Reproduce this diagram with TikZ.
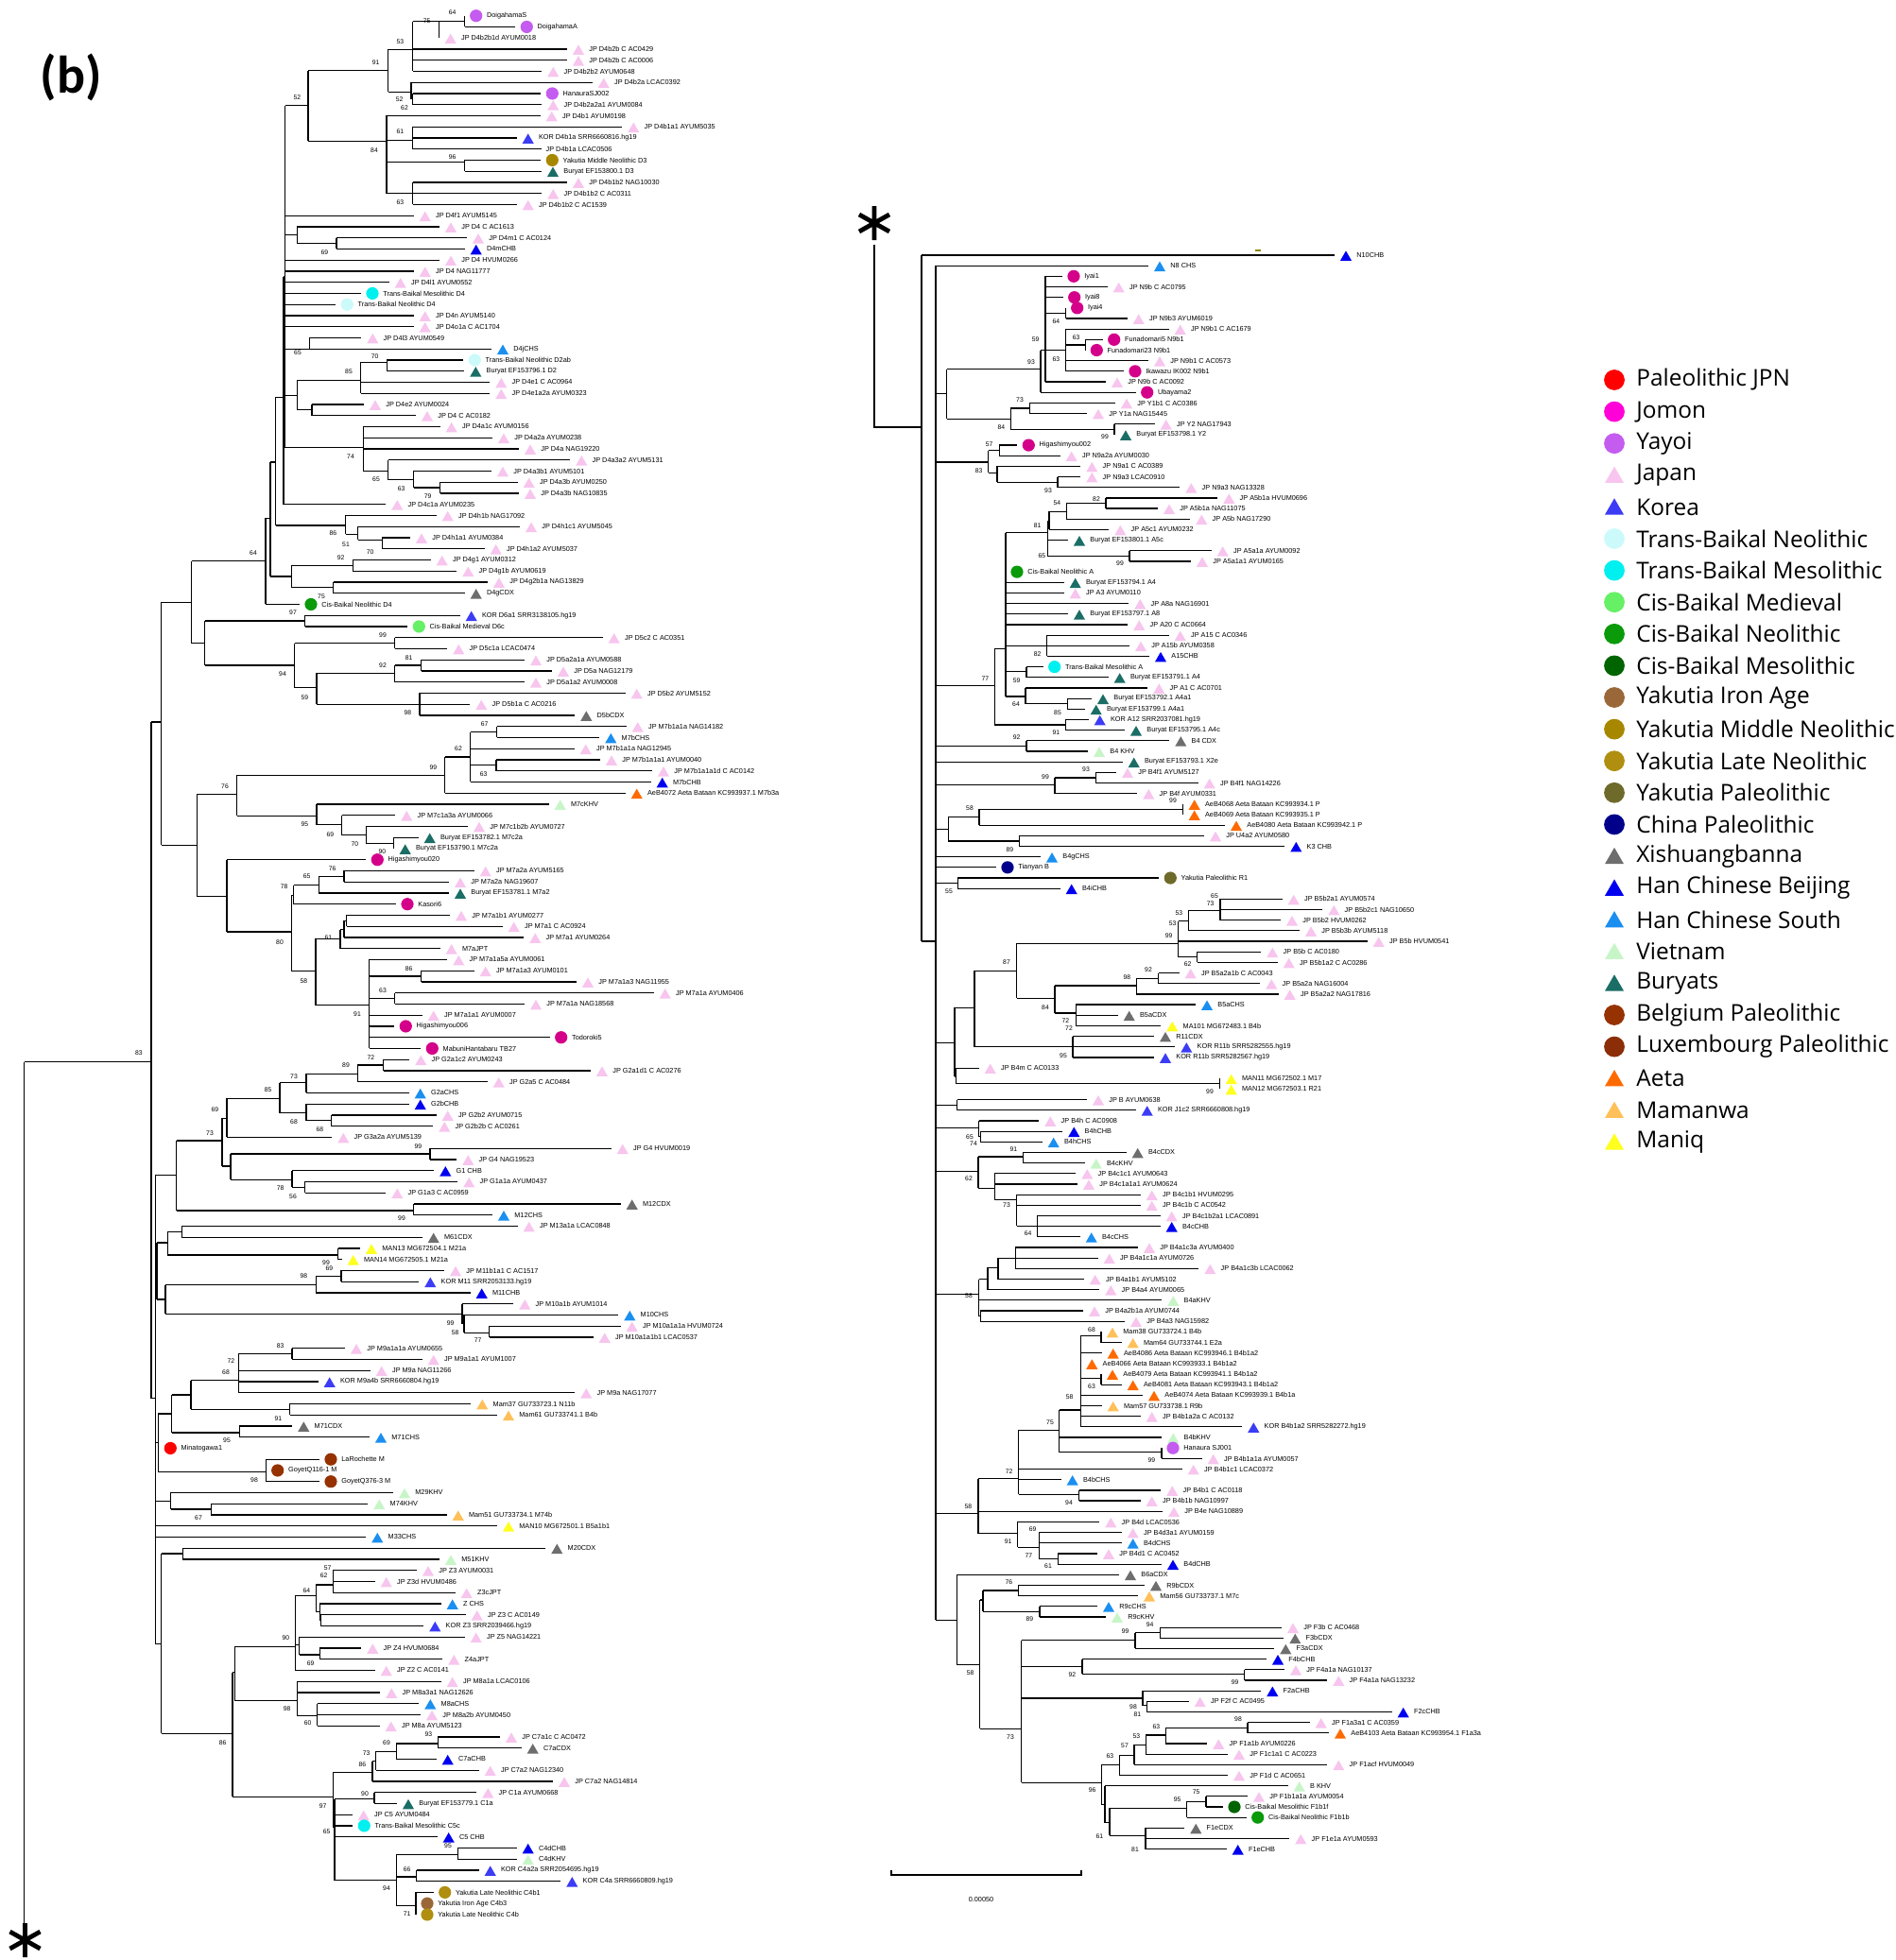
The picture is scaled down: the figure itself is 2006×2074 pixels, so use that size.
\documentclass[tikz,border=0pt]{standalone}
\usepackage{fontspec}
\setmainfont{Liberation Sans}
\newfontfamily\legfont{Open Sans}
\newfontfamily\panfont{Carlito}
\usetikzlibrary{shapes.geometric}
\definecolor{jpc}{HTML}{F7C5EE}
\definecolor{korc}{HTML}{3C3CF5}
\definecolor{chbc}{HTML}{0000F0}
\definecolor{chsc}{HTML}{1A8FF0}
\definecolor{xsbc}{HTML}{6E6E6E}
\definecolor{vnc}{HTML}{C8F5C8}
\definecolor{burc}{HTML}{1A6E66}
\definecolor{aetac}{HTML}{FF6A00}
\definecolor{mamc}{HTML}{FFC05A}
\definecolor{mnqc}{HTML}{FFFF20}
\definecolor{jomc}{HTML}{D4008A}
\definecolor{jomlc}{HTML}{FF00D8}
\definecolor{yayc}{HTML}{C45CF0}
\definecolor{palc}{HTML}{FF0000}
\definecolor{tbnc}{HTML}{CCFAFA}
\definecolor{tbmc}{HTML}{00F0F0}
\definecolor{cbdc}{HTML}{66F066}
\definecolor{cbnc}{HTML}{0A9A0A}
\definecolor{cbmc}{HTML}{006400}
\definecolor{yiac}{HTML}{9A6838}
\definecolor{ymnc}{HTML}{A88700}
\definecolor{ylnc}{HTML}{B08F10}
\definecolor{yplc}{HTML}{6E6A2A}
\definecolor{cplc}{HTML}{00008B}
\definecolor{belc}{HTML}{963200}
\definecolor{luxc}{HTML}{8B2E08}
\newcommand\pre{L}
\newcount\bootc
\newcommand\leaf[5]{\draw[br] (#2,#1) -- (#3,#1);
  \path (#3,#1) ++(6pt,0) node[#4] (\pre m#1) {} ++(5.5pt,0) node[lab] (\pre#1) {#5};}
\newcommand\leafn[4]{\draw[br] (#2,#1) -- (#3,#1);
  \path (#3,#1) ++(2pt,0) node[lab] (\pre#1) {#4};}
\newcommand\clade[5]{\draw[br] (#1,#3) -- (#2,#3) (#2,#4) -- (#2,#5);}
\newcommand\boot[3]{\global\advance\bootc by 1 \node[bsl] (bs\the\bootc) at (#1,#2) {#3};}
\newcommand\astk[2]{\draw[line width=2.4pt] (#1,#2) +(0,-18) -- +(0,18) +(-16,-9) -- +(16,9) +(-16,9) -- +(16,-9);}
\begin{document}
\begin{tikzpicture}[x=0.5pt,y=-0.5pt]
\tikzstyle{br} = [line width=0.6pt]
\tikzstyle{lab} = [anchor=west, inner sep=0pt, font=\fontsize{3.65}{4}\selectfont]
\tikzstyle{bsl} = [inner sep=0pt, font=\fontsize{3.4}{4}\selectfont]
\tikzstyle{trimk} = [regular polygon, regular polygon sides=3, minimum size=7pt, inner sep=0pt, yshift=-1.2pt]
\tikzstyle{circmk} = [circle, minimum size=6.6pt, inner sep=0pt]
\tikzstyle{mjp} = [trimk, fill=jpc]
\tikzstyle{mkor} = [trimk, fill=korc]
\tikzstyle{mchb} = [trimk, fill=chbc]
\tikzstyle{mchs} = [trimk, fill=chsc]
\tikzstyle{mxsb} = [trimk, fill=xsbc]
\tikzstyle{mvn} = [trimk, fill=vnc]
\tikzstyle{mbur} = [trimk, fill=burc]
\tikzstyle{maeta} = [trimk, fill=aetac]
\tikzstyle{mmam} = [trimk, fill=mamc]
\tikzstyle{mmnq} = [trimk, fill=mnqc]
\tikzstyle{mjom} = [circmk, fill=jomc]
\tikzstyle{mjoml} = [circmk, fill=jomlc]
\tikzstyle{myay} = [circmk, fill=yayc]
\tikzstyle{mpal} = [circmk, fill=palc]
\tikzstyle{mtbn} = [circmk, fill=tbnc]
\tikzstyle{mtbm} = [circmk, fill=tbmc]
\tikzstyle{mcbd} = [circmk, fill=cbdc]
\tikzstyle{mcbn} = [circmk, fill=cbnc]
\tikzstyle{mcbm} = [circmk, fill=cbmc]
\tikzstyle{myia} = [circmk, fill=yiac]
\tikzstyle{mymn} = [circmk, fill=ymnc]
\tikzstyle{myln} = [circmk, fill=ylnc]
\tikzstyle{mypl} = [circmk, fill=yplc]
\tikzstyle{mcpl} = [circmk, fill=cplc]
\tikzstyle{mbel} = [circmk, fill=belc]
\tikzstyle{mlux} = [circmk, fill=luxc]
\tikzstyle{leg} = [anchor=west, inner sep=0pt, font=\legfont\fontsize{12.2}{14}\selectfont]
\useasboundingbox (0,0) rectangle (2006,2074);
\node[font=\panfont\bfseries\fontsize{28}{28}\selectfont] (panel) at (75,82) {(b)};
\astk{26.5}{2053}
\astk{925}{236}
\begin{scope}[y={(0pt,-5.875pt)}, shift={(0pt,-8.35pt)}]
\renewcommand\pre{L}
\draw[br] (25.7,94.2) -- (25.7,171.8);
\clade{25.7}{160}{94.2}{63.6}{124.5}
\clade{160}{170.7}{63.6}{52.8}{74.7}
\clade{160}{164.3}{124.5}{104.4}{146.6}
\clade{464.7}{491.7}{0.5}{0}{1}
\clade{436.7}{464.7}{0.5}{0.5}{2}
\clade{410.7}{436.7}{3.04}{0.5}{5}
\clade{410.7}{435}{6.87}{6}{7.5}
\clade{435}{436.7}{7.5}{7}{8}
\clade{326}{410.7}{4.94}{3.04}{6.87}
\clade{409}{436.7}{11.2}{10}{12}
\clade{409}{491.7}{13.2}{13}{14}
\clade{409}{436.7}{16}{15}{17}
\clade{326}{409}{11.3}{9}{16}
\clade{301.7}{326}{8.1}{4.94}{11.3}
\clade{314.3}{356}{20.5}{20}{21}
\clade{301.7}{314.3}{19.75}{19}{20.5}
\clade{301.7}{327.7}{30}{29}{30}
\clade{381.7}{409.3}{31.2}{31}{32}
\clade{314.3}{381.7}{32.8}{31.2}{34}
\clade{314.3}{330}{35.5}{35}{36}
\clade{301.7}{314.3}{34.2}{32.8}{35.5}
\clade{437.7}{465.7}{42.5}{42}{43}
\clade{410.7}{437.7}{41.8}{41}{42.5}
\clade{384.3}{410.7}{41}{40}{41.8}
\clade{301.7}{384.3}{38.9}{37}{41}
\clade{300}{301.7}{23.5}{8.1}{38.9}
\clade{291.7}{300}{34.35}{23.5}{44}
\clade{378.7}{404.3}{47.2}{47}{48}
\clade{365.7}{378.7}{46.7}{46}{47.2}
\clade{291.7}{365.7}{45.9}{45}{46.7}
\clade{286}{291.7}{40.2}{34.35}{45.9}
\clade{308.3}{373.3}{49.5}{49}{50}
\clade{308.3}{352.7}{51.5}{51}{52}
\clade{286}{308.3}{50.5}{49.5}{51.5}
\clade{281}{286}{45.25}{40.2}{50.5}
\clade{202.7}{281}{49.1}{45.25}{53}
\clade{216.7}{322.7}{54.5}{54}{55}
\clade{311.7}{417.7}{56.5}{56}{57}
\clade{417.7}{445.7}{58.5}{58}{59}
\clade{335}{417.7}{59.2}{58.5}{60}
\clade{335}{444}{62}{61}{63}
\clade{311.7}{335}{60.5}{59.2}{62}
\clade{216.7}{311.7}{58.5}{56.5}{60.5}
\clade{202.7}{216.7}{56.5}{54.5}{58.5}
\clade{170.7}{202.7}{52.8}{49.1}{56.5}
\clade{497.7}{525.7}{64.5}{64}{65}
\clade{497.7}{525}{67.5}{67}{68}
\clade{470.7}{497.7}{66.75}{64.5}{69}
\clade{250.7}{470.7}{68.4}{66.75}{70}
\clade{387.7}{416.7}{74.55}{74}{75}
\clade{361.7}{387.7}{73.8}{73}{74.55}
\clade{335}{361.7}{72.85}{72}{73.8}
\clade{250.7}{335}{72.05}{71}{72.85}
\clade{208.3}{250.7}{70.1}{68.4}{72.05}
\clade{337.3}{364}{77.5}{77}{78}
\clade{310.7}{337.3}{78.3}{77.5}{79}
\clade{308.3}{310.7}{79.2}{78.3}{80}
\clade{364}{366.7}{81.5}{81}{82}
\clade{360}{364}{82.3}{81.5}{83}
\clade{334}{360}{83.1}{82.3}{84}
\clade{390.7}{445.7}{86.5}{86}{87}
\clade{390.7}{417.7}{88.5}{88}{89}
\clade{334}{390.7}{89.1}{85}{93}
\clade{308.3}{334}{86}{83.1}{89.1}
\clade{240}{308.3}{82.5}{79.2}{86}
\clade{208.3}{240}{79.3}{76}{82.5}
\clade{170.7}{208.3}{74.7}{70.1}{79.3}
\clade{378.3}{405.7}{94.5}{94}{95}
\clade{324}{378.3}{95.3}{94.5}{96}
\clade{296}{324}{96.1}{95.3}{97}
\clade{324}{350.7}{99.5}{99}{100}
\clade{296}{324}{98.8}{98}{99.5}
\clade{240}{296}{97.5}{96.1}{98.8}
\clade{235}{240}{99.3}{97.5}{101}
\clade{244}{455}{102.5}{102}{103}
\clade{309}{322.7}{105.5}{105}{106}
\clade{244}{309}{104.8}{104}{105.5}
\clade{235}{244}{103.6}{102.5}{104.8}
\clade{186.7}{235}{101.3}{99.3}{103.6}
\clade{186.7}{437.7}{107.6}{107}{108}
\clade{164.3}{186.7}{104.4}{101.3}{107.6}
\clade{177.3}{192.3}{109.5}{109}{110}
\clade{177.3}{357.7}{111.6}{111}{112}
\clade{166}{177.3}{110.5}{109.5}{111.6}
\clade{334.3}{361}{113.5}{113}{114}
\clade{175}{334.3}{114.3}{113.5}{115}
\clade{491}{517.7}{118.6}{118}{119}
\clade{489}{491}{117.8}{117}{118.6}
\clade{175}{489}{116.9}{116}{117.8}
\clade{166}{175}{115.6}{114.3}{116.9}
\clade{164.3}{166}{112.9}{110.5}{115.6}
\clade{252.3}{309}{120.5}{120}{121}
\clade{202}{252.3}{122.9}{120.5}{124}
\clade{202}{306.7}{125.5}{125}{126}
\clade{181.7}{202}{124.2}{122.9}{125.5}
\clade{181.7}{253.3}{127.6}{127}{128}
\clade{167.3}{181.7}{125.9}{124.2}{127.6}
\clade{167.3}{281.7}{131.1}{130}{132}
\clade{164.3}{167.3}{128.5}{125.9}{131.1}
\clade{180.7}{223.3}{134.5}{134}{135}
\clade{164.3}{180.7}{133.8}{133}{134.5}
\clade{170.7}{193.3}{138.5}{138}{139}
\clade{334.3}{352.3}{141.3}{140}{142}
\clade{338.3}{339.3}{144.5}{144}{145}
\clade{334.3}{338.3}{143.7}{143}{144.5}
\clade{312.3}{334.3}{142.3}{141.3}{143.7}
\clade{316.7}{338.3}{147.6}{147}{148}
\clade{312.3}{316.7}{146.7}{146}{147.6}
\clade{248.3}{312.3}{146.9}{142.3}{149}
\clade{314.3}{335.5}{153.1}{152}{154}
\clade{248.3}{314.3}{151.7}{150}{153.1}
\clade{246}{248.3}{149.2}{146.9}{151.7}
\clade{419.3}{463.3}{155.6}{155}{156}
\clade{397.7}{419.3}{156.3}{155.6}{157}
\clade{394}{397.7}{157.2}{156.3}{158}
\clade{352.3}{394}{158.2}{157.2}{159}
\clade{354}{396}{160.6}{160}{161}
\clade{419.3}{484.3}{165.6}{165}{166}
\clade{419.3}{440.7}{167.6}{167}{168}
\clade{419.3}{440}{170.2}{169}{171}
\clade{354}{419.3}{167.9}{165.6}{170.2}
\clade{352.3}{354}{163.1}{160.6}{167.9}
\clade{246}{352.3}{160.4}{158.2}{163.1}
\clade{170.7}{246}{154.7}{149.2}{160.4}
\clade{164.3}{170.7}{146.6}{138.5}{154.7}
\leaf{0}{491.7}{491.7}{myay}{DoigahamaS}
\leaf{1}{491.7}{545.3}{myay}{DoigahamaA}
\leaf{2}{464.7}{464.7}{mjp}{JP D4b2b1d AYUM0018}
\leaf{3}{436.7}{600}{mjp}{JP D4b2b C AC0429}
\leaf{4}{436.7}{600}{mjp}{JP D4b2b C AC0006}
\leaf{5}{436.7}{573.3}{mjp}{JP D4b2b2 AYUM0648}
\leaf{6}{435}{626.7}{mjp}{JP D4b2a LCAC0392}
\leaf{7}{436.7}{572.3}{myay}{HanauraSJ002}
\leaf{8}{436.7}{573.3}{mjp}{JP D4b2a2a1 AYUM0084}
\leaf{9}{409}{571.7}{mjp}{JP D4b1 AYUM0198}
\leaf{10}{436.7}{658.3}{mjp}{JP D4b1a1 AYUM5035}
\leaf{11}{436.7}{546.7}{mkor}{KOR D4b1a SRR6660816.hg19}
\leafn{12}{436.7}{573.3}{JP D4b1a LCAC0506}
\leaf{13}{491.7}{572.3}{mymn}{Yakutia Middle Neolithic D3}
\leaf{14}{491.7}{573}{mbur}{Buryat EF153800.1 D3}
\leaf{15}{436.7}{600}{mjp}{JP D4b1b2 NAG10030}
\leaf{16}{436.7}{573.3}{mjp}{JP D4b1b2 C AC0311}
\leaf{17}{436.7}{546.7}{mjp}{JP D4b1b2 C AC1539}
\leaf{18}{301.7}{437.7}{mjp}{JP D4f1 AYUM5145}
\leaf{19}{314.3}{465}{mjp}{JP D4 C AC1613}
\leaf{20}{356}{494}{mjp}{JP D4m1 C AC0124}
\leaf{21}{356}{491.7}{mchb}{D4mCHB}
\leaf{22}{301.7}{465}{mjp}{JP D4 HVUM0266}
\leaf{23}{301.7}{437.7}{mjp}{JP D4 NAG11777}
\leaf{24}{301.7}{411.7}{mjp}{JP D4l1 AYUM0552}
\leaf{25}{301.7}{382}{mtbm}{Trans-Baikal Mesolithic D4}
\leaf{26}{301.7}{355.3}{mtbn}{Trans-Baikal Neolithic D4}
\leaf{27}{301.7}{437.7}{mjp}{JP D4n AYUM5140}
\leaf{28}{301.7}{437.7}{mjp}{JP D4o1a C AC1704}
\leaf{29}{327.7}{382.3}{mjp}{JP D4l3 AYUM0549}
\leaf{30}{327.7}{520}{mchs}{D4jCHS}
\leaf{31}{409.3}{490.3}{mtbn}{Trans-Baikal Neolithic D2ab}
\leaf{32}{409.3}{491.3}{mbur}{Buryat EF153796.1 D2}
\leaf{33}{381.7}{518.3}{mjp}{JP D4e1 C AC0964}
\leaf{34}{381.7}{518.3}{mjp}{JP D4e1a2a AYUM0323}
\leaf{35}{330}{385}{mjp}{JP D4e2 AYUM0024}
\leaf{36}{330}{440}{mjp}{JP D4 C AC0182}
\leaf{37}{384.3}{465.7}{mjp}{JP D4a1c AYUM0156}
\leaf{38}{384.3}{521}{mjp}{JP D4a2a AYUM0238}
\leaf{39}{384.3}{549}{mjp}{JP D4a NAG19220}
\leaf{40}{410.7}{603.3}{mjp}{JP D4a3a2 AYUM5131}
\leaf{41}{437.7}{520}{mjp}{JP D4a3b1 AYUM5101}
\leaf{42}{465.7}{547.7}{mjp}{JP D4a3b AYUM0250}
\leaf{43}{465.7}{549}{mjp}{JP D4a3b NAG10835}
\leaf{44}{300}{408.3}{mjp}{JP D4c1a AYUM0235}
\leaf{45}{365.7}{461.7}{mjp}{JP D4h1b NAG17092}
\leaf{46}{378.7}{550}{mjp}{JP D4h1c1 AYUM5045}
\leaf{47}{404.3}{434}{mjp}{JP D4h1a1 AYUM0384}
\leaf{48}{404.3}{512.7}{mjp}{JP D4h1a2 AYUM5037}
\leaf{49}{373.3}{455.7}{mjp}{JP D4g1 AYUM0312}
\leaf{50}{373.3}{483.3}{mjp}{JP D4g1b AYUM0619}
\leaf{51}{352.7}{516}{mjp}{JP D4g2b1a NAG13829}
\leaf{52}{352.7}{491.7}{mxsb}{D4gCDX}
\leaf{53}{281}{317}{mcbn}{Cis-Baikal Neolithic D4}
\leaf{54}{322.7}{486.7}{mkor}{KOR D6a1 SRR3138105.hg19}
\leaf{55}{322.7}{431.3}{mcbd}{Cis-Baikal Medieval D6c}
\leaf{56}{417.7}{637.7}{mjp}{JP D5c2 C AC0351}
\leaf{57}{417.7}{473.3}{mjp}{JP D5c1a LCAC0474}
\leaf{58}{445.7}{555}{mjp}{JP D5a2a1a AYUM0588}
\leaf{59}{445.7}{584}{mjp}{JP D5a NAG12179}
\leaf{60}{417.7}{555}{mjp}{JP D5a1a2 AYUM0008}
\leaf{61}{444}{661.7}{mjp}{JP D5b2 AYUM5152}
\leaf{62}{444}{497.3}{mjp}{JP D5b1a C AC0216}
\leaf{63}{444}{608.3}{mxsb}{D5bCDX}
\leaf{64}{525.7}{662.7}{mjp}{JP M7b1a1a NAG14182}
\leaf{65}{525.7}{634.3}{mchs}{M7bCHS}
\leaf{66}{497.7}{607.7}{mjp}{JP M7b1a1a NAG12945}
\leaf{67}{525}{635}{mjp}{JP M7b1a1a1 AYUM0040}
\leaf{68}{525}{690}{mjp}{JP M7b1a1a1d C AC0142}
\leaf{69}{497.7}{688.7}{mchb}{M7bCHB}
\leaf{70}{470.7}{661.7}{maeta}{AeB4072 Aeta Bataan KC993937.1 M7b3a}
\leaf{71}{335}{580.7}{mvn}{M7cKHV}
\leaf{72}{361.7}{418.3}{mjp}{JP M7c1a3a AYUM0066}
\leaf{73}{387.7}{495}{mjp}{JP M7c1b2b AYUM0727}
\leaf{74}{416.7}{442.7}{mbur}{Buryat EF153782.1 M7c2a}
\leaf{75}{416.7}{416.7}{mbur}{Buryat EF153790.1 M7c2a}
\leaf{76}{240}{387.3}{mjom}{Higashimyou020}
\leaf{77}{364}{501.7}{mjp}{JP M7a2a AYUM5165}
\leaf{78}{364}{475}{mjp}{JP M7a2a NAG19607}
\leaf{79}{337.3}{475}{mbur}{Buryat EF153781.1 M7a2}
\leaf{80}{310.7}{419}{mjom}{Kasori6}
\leaf{81}{366.7}{476}{mjp}{JP M7a1b1 AYUM0277}
\leaf{82}{366.7}{531.7}{mjp}{JP M7a1 C AC0924}
\leaf{83}{364}{554.3}{mjp}{JP M7a1 AYUM0264}
\leaf{84}{360}{465.7}{mjp}{M7aJPT}
\leaf{85}{390.7}{473.3}{mjp}{JP M7a1a5a AYUM0061}
\leaf{86}{445.7}{501.7}{mjp}{JP M7a1a3 AYUM0101}
\leaf{87}{445.7}{610}{mjp}{JP M7a1a3 NAG11955}
\leaf{88}{417.7}{691.7}{mjp}{JP M7a1a AYUM0406}
\leaf{89}{417.7}{555}{mjp}{JP M7a1a NAG18568}
\leaf{90}{390.7}{446.7}{mjp}{JP M7a1a1 AYUM0007}
\leaf{91}{390.7}{417.3}{mjom}{Higashimyou006}
\leaf{92}{390.7}{581.7}{mjom}{Todoroki5}
\leaf{93}{390.7}{445.3}{mjom}{MabuniHantabaru TB27}
\leaf{94}{405.7}{433.3}{mjp}{JP G2a1c2 AYUM0243}
\leaf{95}{405.7}{625}{mjp}{JP G2a1d1 C AC0276}
\leaf{96}{378.3}{515.7}{mjp}{JP G2a5 C AC0484}
\leaf{97}{324}{432.7}{mchs}{G2aCHS}
\leaf{98}{324}{432.7}{mchb}{G2bCHB}
\leaf{99}{350.7}{461.7}{mjp}{JP G2b2 AYUM0715}
\leaf{100}{350.7}{458.3}{mjp}{JP G2b2b C AC0261}
\leaf{101}{240}{351.3}{mjp}{JP G3a2a AYUM5139}
\leaf{102}{455}{646.7}{mjp}{JP G4 HVUM0019}
\leaf{103}{455}{483.3}{mjp}{JP G4 NAG19523}
\leaf{104}{309}{459.3}{mchb}{G1 CHB}
\leaf{105}{322.7}{484.3}{mjp}{JP G1a1a AYUM0437}
\leaf{106}{322.7}{408.3}{mjp}{JP G1a3 C AC0959}
\leaf{107}{437.7}{656.7}{mxsb}{M12CDX}
\leaf{108}{437.7}{521}{mchs}{M12CHS}
\leaf{109}{192.3}{547.7}{mjp}{JP M13a1a LCAC0848}
\leaf{110}{192.3}{446.7}{mxsb}{M61CDX}
\leaf{111}{357.7}{381}{mmnq}{MAN13 MG672504.1 M21a}
\leaf{112}{357.7}{361.7}{mmnq}{MAN14 MG672505.1 M21a}
\leaf{113}{361}{470}{mjp}{JP M11b1a1 C AC1517}
\leaf{114}{361}{443.3}{mkor}{KOR M11 SRR2053133.hg19}
\leaf{115}{334.3}{497.7}{mchb}{M11CHB}
\leaf{116}{489}{543.3}{mjp}{JP M10a1b AYUM1014}
\leaf{117}{491}{654.3}{mchs}{M10CHS}
\leaf{118}{517.7}{656.7}{mjp}{JP M10a1a1a HVUM0724}
\leaf{119}{517.7}{627.7}{mjp}{JP M10a1a1b1 LCAC0537}
\leaf{120}{309}{365}{mjp}{JP M9a1a1a AYUM0655}
\leaf{121}{309}{446.7}{mjp}{JP M9a1a1 AYUM1007}
\leaf{122}{252.3}{391.7}{mjp}{JP M9a NAG11266}
\leaf{123}{252.3}{336.7}{mkor}{KOR M9a4b SRR6660804.hg19}
\leaf{124}{252.3}{608.3}{mjp}{JP M9a NAG17077}
\leaf{125}{306.7}{498.3}{mmam}{Mam37 GU733723.1 N11b}
\leaf{126}{306.7}{526}{mmam}{Mam61 GU733741.1 B4b}
\leaf{127}{253.3}{309.3}{mxsb}{M71CDX}
\leaf{128}{253.3}{391}{mchs}{M71CHS}
\leaf{129}{167.3}{168.3}{mpal}{Minatogawa1}
\leaf{130}{281.7}{338}{mbel}{LaRochette M}
\leaf{131}{281.7}{281.7}{mbel}{GoyetQ116-1 M}
\leaf{132}{281.7}{338}{mbel}{GoyetQ376-3 M}
\leaf{133}{180.7}{416}{mvn}{M29KHV}
\leaf{134}{223.3}{389.3}{mvn}{M74KHV}
\leaf{135}{223.3}{472.7}{mmam}{Mam51 GU733734.1 M74b}
\leaf{136}{164.3}{526}{mmnq}{MAN10 MG672501.1 B5a1b1}
\leaf{137}{164.3}{387.3}{mchs}{M33CHS}
\leaf{138}{193.3}{577.3}{mxsb}{M20CDX}
\leaf{139}{193.3}{465}{mvn}{M51KHV}
\leaf{140}{352.3}{441}{mjp}{JP Z3 AYUM0031}
\leaf{141}{352.3}{396.7}{mjp}{JP Z3d HVUM0486}
\leaf{142}{352.3}{481.7}{mjp}{Z3cJPT}
\leaf{143}{338.3}{466.7}{mchs}{Z CHS}
\leaf{144}{339.3}{492.7}{mjp}{JP Z3 C AC0149}
\leaf{145}{339.3}{448.3}{mkor}{KOR Z3 SRR2039466.hg19}
\leaf{146}{316.7}{491.7}{mjp}{JP Z5 NAG14221}
\leaf{147}{338.3}{382.3}{mjp}{JP Z4 HVUM0684}
\leaf{148}{338.3}{468.3}{mjp}{Z4aJPT}
\leaf{149}{312.3}{396.7}{mjp}{JP Z2 C AC0141}
\leaf{150}{314.3}{466.7}{mjp}{JP M8a1a LCAC0106}
\leaf{151}{314.3}{402.3}{mjp}{JP M8a3a1 NAG12626}
\leaf{152}{335.5}{443.3}{mchs}{M8aCHS}
\leaf{153}{335.5}{445}{mjp}{JP M8a2b AYUM0450}
\leaf{154}{335.5}{401.7}{mjp}{JP M8a AYUM5123}
\leaf{155}{463.3}{529}{mjp}{JP C7a1c C AC0472}
\leaf{156}{463.3}{551.7}{mxsb}{C7aCDX}
\leaf{157}{419.3}{461.7}{mchb}{C7aCHB}
\leaf{158}{397.7}{506.7}{mjp}{JP C7a2 NAG12340}
\leaf{159}{394}{585}{mjp}{JP C7a2 NAG14814}
\leaf{160}{396}{504.3}{mjp}{JP C1a AYUM0668}
\leaf{161}{396}{420}{mbur}{Buryat EF153779.1 C1a}
\leaf{162}{354}{372.7}{mjp}{JP C5 AYUM0484}
\leaf{163}{354}{373.3}{mtbm}{Trans-Baikal Mesolithic C5c}
\leaf{164}{354}{462.7}{mchb}{C5 CHB}
\leaf{165}{484.3}{546.7}{mchb}{C4dCHB}
\leaf{166}{484.3}{546.7}{mvn}{C4dKHV}
\leaf{167}{440.7}{506.7}{mkor}{KOR C4a2a SRR2054695.hg19}
\leaf{168}{440.7}{593.3}{mkor}{KOR C4a SRR6660809.hg19}
\leaf{169}{440}{458.7}{myln}{Yakutia Late Neolithic C4b1}
\leaf{170}{440}{440}{myia}{Yakutia Iron Age C4b3}
\leaf{171}{440}{440}{myln}{Yakutia Late Neolithic C4b}
\boot{478.7}{-0.29}{64} \boot{451.7}{0.45}{75} \boot{423.3}{2.32}{53} \boot{397.7}{4.17}{91}
\boot{314.3}{7.35}{52} \boot{422.7}{7.54}{52} \boot{428}{8.28}{62} \boot{423.3}{10.44}{61}
\boot{396}{12.1}{84} \boot{478.7}{12.7}{96} \boot{423.3}{16.8}{63} \boot{343.3}{21.3}{69}
\boot{315}{30.3}{65} \boot{396.7}{30.7}{70} \boot{369}{32}{85} \boot{371}{39.7}{74}
\boot{398}{41.7}{65} \boot{424.7}{42.6}{63} \boot{452.7}{43.3}{79} \boot{352.3}{46.6}{86}
\boot{366}{47.6}{51} \boot{391.7}{48.3}{70} \boot{360.7}{48.8}{92} \boot{268}{48.4}{64}
\boot{340}{52.3}{75} \boot{310}{53.7}{97} \boot{405}{55.8}{99} \boot{432.7}{57.8}{81}
\boot{405}{58.5}{92} \boot{299}{59.3}{94} \boot{322.3}{61.4}{59} \boot{431.3}{62.8}{98}
\boot{512.7}{63.8}{67} \boot{485}{66}{62} \boot{458.3}{67.7}{99} \boot{511.7}{68.3}{63}
\boot{238}{69.4}{76} \boot{322.3}{72.8}{95} \boot{349.3}{73.7}{69} \boot{375.3}{74.6}{70}
\boot{404.3}{75.3}{90} \boot{351.7}{76.8}{76} \boot{324.7}{77.5}{65} \boot{300.7}{78.4}{78}
\boot{296}{83.4}{80} \boot{347.3}{83}{61} \boot{432.7}{85.8}{86} \boot{321.3}{86.9}{58}
\boot{405}{87.8}{63} \boot{378}{89.9}{91} \boot{392.3}{93.8}{72} \boot{366}{94.5}{89}
\boot{311}{95.5}{73} \boot{283.7}{96.7}{85} \boot{227.3}{98.5}{69} \boot{338.3}{100.3}{68}
\boot{311}{99.6}{68} \boot{222}{100.6}{73} \boot{442.3}{101.8}{99} \boot{296.7}{105.6}{78}
\boot{310}{106.3}{56} \boot{425}{108.3}{99} \boot{345}{112.3}{99} \boot{348.3}{112.8}{69}
\boot{321.3}{113.5}{98} \boot{476.7}{117.7}{99} \boot{481.7}{118.6}{58} \boot{505.7}{119.3}{77}
\boot{296.7}{119.8}{83} \boot{244.3}{121.1}{72} \boot{239}{122.2}{68} \boot{294.3}{126.3}{91}
\boot{240}{128.3}{95} \boot{269}{131.9}{98} \boot{210}{135.3}{67} \boot{147}{93.4}{83}
\boot{346.7}{139.8}{57} \boot{342.7}{140.5}{62} \boot{324.3}{141.8}{64} \boot{302.3}{146.1}{90}
\boot{328.7}{148.4}{69} \boot{303.7}{152.5}{98} \boot{325.7}{153.7}{60} \boot{453.3}{154.8}{93}
\boot{409}{155.5}{69} \boot{387.7}{156.5}{73} \boot{383.3}{157.5}{86} \boot{235.7}{155.5}{86}
\boot{386}{160.1}{90} \boot{341.7}{161.2}{97} \boot{345.7}{163.5}{65} \boot{474}{164.8}{95}
\boot{430.7}{166.9}{66} \boot{409}{168.6}{94} \boot{430.7}{170.9}{71}
\end{scope}
\begin{scope}[y={(0pt,-5.585pt)}, shift={(0pt,-135pt)}]
\renewcommand\pre{R}
\draw[br] (925,-1) -- (925,16.3) -- (975,16.3);
\draw[br] (975,0) -- (975,65);
\clade{975}{990}{65}{1}{129.3}
\clade{1106}{1127.7}{5.52}{5}{6}
\clade{1127.7}{1148.3}{8.5}{8}{9}
\clade{1106}{1127.7}{9}{7}{11}
\clade{1101}{1106}{9}{2}{12}
\clade{1001.7}{1101}{10.8}{9}{13}
\clade{1069.3}{1089.3}{14.5}{14}{15}
\clade{1069.3}{1179}{16.5}{16}{17}
\clade{1001.7}{1069.3}{15.5}{14.5}{16.5}
\clade{990}{1001.7}{13.1}{10.8}{15.5}
\clade{1045.7}{1057.3}{18.5}{18}{19}
\clade{1055}{1119}{21.5}{21}{22}
\clade{1045.7}{1055}{20.6}{20}{21.5}
\clade{990}{1045.7}{19.6}{18.5}{20.6}
\clade{1128.3}{1170}{23.5}{23}{24}
\clade{1110}{1128.3}{24.3}{23.5}{25}
\clade{1108.3}{1110}{25.2}{24.3}{26}
\clade{1108.3}{1195}{28.5}{28}{29}
\clade{1064}{1108.3}{26.3}{25.2}{28.5}
\clade{1064}{1107.7}{37}{36}{38}
\clade{1064}{1086}{39.4}{39}{40}
\clade{1085}{1129.3}{42.5}{42}{43}
\clade{1064}{1085}{41.8}{41}{42.5}
\clade{1052.3}{1064}{37.3}{26.3}{41.8}
\clade{1052.3}{1127.7}{44.5}{44}{45}
\clade{990}{1052.3}{40.8}{37.3}{44.5}
\clade{990}{1086}{46.5}{46}{47}
\clade{1116}{1159.3}{49.5}{49}{50}
\clade{990}{1116}{50.2}{49.5}{51}
\clade{1036}{1251.7}{52.5}{52}{53}
\clade{1003.3}{1036}{53.2}{52.5}{54}
\clade{1003.3}{1078.3}{55.5}{55}{56}
\clade{990}{1003.3}{54.4}{53.2}{55.5}
\clade{990}{1013.3}{59.5}{59}{60}
\clade{1257.3}{1291}{62.1}{61}{63}
\clade{1246.7}{1257.3}{63.1}{62.1}{64}
\clade{1246.7}{1266.7}{66.5}{66}{67}
\clade{1075.7}{1246.7}{65.2}{63.1}{66.5}
\clade{1202.3}{1225.7}{68.5}{68}{69}
\clade{1116}{1202.3}{69.2}{68.5}{70}
\clade{1116}{1138.3}{71.8}{71}{73}
\clade{1075.7}{1116}{70.4}{69.2}{71.8}
\clade{1031}{1075.7}{67.8}{65.2}{70.4}
\clade{1031}{1135}{75}{74}{76}
\clade{1010}{1031}{71.3}{67.8}{75}
\clade{1011.7}{1290.7}{78.5}{78}{79}
\clade{1010}{1011.7}{77.8}{77}{78.5}
\clade{990}{1010}{74.6}{71.3}{77.8}
\clade{990}{1012.7}{80.5}{80}{81}
\clade{1035.7}{1037.3}{83.5}{83}{84}
\clade{990}{1035.7}{82.7}{82}{83.5}
\clade{1035}{1082.7}{85.4}{85}{86}
\clade{1075.7}{1097.7}{91.97}{91}{93}
\clade{1052.3}{1075.7}{89.5}{89}{91.97}
\clade{1035}{1052.3}{88.4}{87}{89.5}
\clade{990}{1035}{86.8}{85.4}{88.4}
\clade{1056}{1074.3}{95}{94}{96}
\clade{1045}{1056}{95.9}{95}{97}
\clade{1035.7}{1045}{97}{95.9}{98}
\clade{1035.7}{1037.3}{100.5}{100}{101}
\clade{990}{1035.7}{98.4}{97}{100.5}
\clade{1143.3}{1165}{102.4}{102}{103}
\clade{1143.3}{1165}{106.4}{106}{107}
\clade{1120.7}{1143.3}{109.4}{102.4}{111}
\clade{1120.7}{1229}{113.4}{113}{114}
\clade{1077.7}{1120.7}{111.3}{109.4}{113.4}
\clade{1077.7}{1141.7}{117.4}{117}{118}
\clade{1035}{1077.7}{115.9}{111.3}{117.4}
\clade{1099.3}{1119.3}{123.5}{123}{124}
\clade{1076.7}{1099.3}{122.4}{121}{123.5}
\clade{1035}{1076.7}{121.1}{120}{122.4}
\clade{990}{1035}{119.2}{115.9}{121.1}
\clade{1040}{1077.7}{126.5}{126}{127}
\clade{1040}{1100}{128.5}{128}{129}
\clade{1036.7}{1040}{127.4}{126.5}{128.5}
\clade{1201}{1227.3}{130.5}{130}{131}
\clade{1080.7}{1201}{131.2}{130.5}{132}
\clade{1145}{1316.7}{134.4}{134}{135}
\clade{1080.7}{1145}{133.7}{133}{134.4}
\clade{1209}{1213.3}{137.4}{137}{138}
\clade{1080.7}{1209}{136.7}{136}{137.4}
\clade{1233.3}{1320}{139.5}{139}{140}
\clade{1212.3}{1233.3}{140.2}{139.5}{141}
\clade{1200}{1212.3}{141.1}{140.2}{142}
\clade{1184.3}{1200}{142.1}{141.1}{143}
\clade{1165.7}{1184.3}{143}{142.1}{144}
\clade{1255.7}{1276}{146.5}{146}{147}
\clade{1174}{1255.7}{147.1}{146.5}{148}
\clade{1174}{1212}{149.7}{149}{151}
\clade{1169}{1174}{148.5}{147.1}{149.7}
\clade{1165.7}{1169}{146.8}{145}{148.5}
\clade{1080.7}{1165.7}{144.7}{143}{146.8}
\clade{1036.7}{1080.7}{139.6}{131.2}{144.7}
\clade{1012.3}{1036.7}{133.5}{127.4}{139.6}
\clade{990}{1012.3}{129.3}{125}{133.5}
\leaf{0}{975}{1412}{mchb}{N10CHB}
\leaf{1}{990}{1215}{mchs}{N8 CHS}
\leaf{2}{1106}{1124}{mjom}{Iyai1}
\leaf{3}{1106}{1171.7}{mjp}{JP N9b C AC0795}
\leaf{4}{1106}{1124.7}{mjom}{Iyai8}
\leaf{5}{1127.7}{1127.7}{mjom}{Iyai4}
\leaf{6}{1127.7}{1192.7}{mjp}{JP N9b3 AYUM6019}
\leaf{7}{1127.7}{1236.7}{mjp}{JP N9b1 C AC1679}
\leaf{8}{1148.3}{1166.7}{mjom}{Funadomari5 N9b1}
\leaf{9}{1148.3}{1148.3}{mjom}{Funadomari23 N9b1}
\leaf{10}{1127.7}{1215}{mjp}{JP N9b1 C AC0573}
\leaf{11}{1127.7}{1189}{mjom}{Ikawazu IK002 N9b1}
\leaf{12}{1106}{1170}{mjp}{JP N9b C AC0092}
\leaf{13}{1101}{1201.7}{mjom}{Ubayama2}
\leaf{14}{1089.3}{1180}{mjp}{JP Y1b1 C AC0386}
\leaf{15}{1089.3}{1150}{mjp}{JP Y1a NAG15445}
\leaf{16}{1179}{1221.7}{mjp}{JP Y2 NAG17943}
\leaf{17}{1179}{1179}{mbur}{Buryat EF153798.1 Y2}
\leaf{18}{1057.3}{1076.3}{mjom}{Higashimyou002}
\leaf{19}{1057.3}{1121.7}{mjp}{JP N9a2a AYUM0030}
\leaf{20}{1055}{1143.3}{mjp}{JP N9a1 C AC0389}
\leaf{21}{1119}{1143.3}{mjp}{JP N9a3 LCAC0910}
\leaf{22}{1119}{1248.3}{mjp}{JP N9a3 NAG13328}
\leaf{23}{1170}{1288.3}{mjp}{JP A5b1a HVUM0696}
\leaf{24}{1170}{1225}{mjp}{JP A5b1a NAG11075}
\leaf{25}{1128.3}{1259.3}{mjp}{JP A5b NAG17290}
\leaf{26}{1110}{1173.3}{mjp}{JP A5c1 AYUM0232}
\leaf{27}{1108.3}{1130}{mbur}{Buryat EF153801.1 A5c}
\leaf{28}{1195}{1281.7}{mjp}{JP A5a1a AYUM0092}
\leaf{29}{1195}{1260}{mjp}{JP A5a1a1 AYUM0165}
\leaf{30}{1064}{1064}{mcbn}{Cis-Baikal Neolithic A}
\leaf{31}{1064}{1125.7}{mbur}{Buryat EF153794.1 A4}
\leaf{32}{1064}{1125.7}{mjp}{JP A3 AYUM0110}
\leaf{33}{1064}{1194.3}{mjp}{JP A8a NAG16901}
\leaf{34}{1064}{1130}{mbur}{Buryat EF153797.1 A8}
\leaf{35}{1064}{1193.3}{mjp}{JP A20 C AC0664}
\leaf{36}{1107.7}{1236.7}{mjp}{JP A15 C AC0346}
\leaf{37}{1107.7}{1195}{mjp}{JP A15b AYUM0358}
\leaf{38}{1107.7}{1216}{mchb}{A15CHB}
\leaf{39}{1086}{1103.7}{mtbm}{Trans-Baikal Mesolithic A}
\leaf{40}{1086}{1172.7}{mbur}{Buryat EF153791.1 A4}
\leaf{41}{1085}{1214.3}{mjp}{JP A1 C AC0701}
\leaf{42}{1129.3}{1155}{mbur}{Buryat EF153792.1 A4a1}
\leaf{43}{1129.3}{1147.7}{mbur}{Buryat EF153799.1 A4a1}
\leaf{44}{1127.7}{1151.7}{mkor}{KOR A12 SRR2037081.hg19}
\leaf{45}{1127.7}{1190}{mbur}{Buryat EF153795.1 A4c}
\leaf{46}{1086}{1237.3}{mxsb}{B4 CDX}
\leaf{47}{1086}{1151}{mvn}{B4 KHV}
\leaf{48}{990}{1187.7}{mbur}{Buryat EF153793.1 X2e}
\leaf{49}{1159.3}{1181}{mjp}{JP B4f1 AYUM5127}
\leaf{50}{1159.3}{1267.7}{mjp}{JP B4f1 NAG14226}
\leaf{51}{1116}{1203.3}{mjp}{JP B4f AYUM0331}
\leaf{52}{1251.7}{1251.7}{maeta}{AeB4068 Aeta Bataan KC993934.1 P}
\leaf{53}{1251.7}{1251.7}{maeta}{AeB4069 Aeta Bataan KC993935.1 P}
\leaf{54}{1036}{1296}{maeta}{AeB4080 Aeta Bataan KC993942.1 P}
\leaf{55}{1078.3}{1274}{mjp}{JP U4a2 AYUM0580}
\leaf{56}{1078.3}{1359.3}{mchb}{K3 CHB}
\leaf{57}{990}{1101}{mchs}{B4gCHS}
\leaf{58}{990}{1054}{mcpl}{Tianyan B}
\leaf{59}{1013.3}{1226.3}{mypl}{Yakutia Paleolithic R1}
\leaf{60}{1013.3}{1121.7}{mchb}{B4iCHB}
\leaf{61}{1291}{1356.7}{mjp}{JP B5b2a1 AYUM0574}
\leaf{62}{1291}{1399.3}{mjp}{JP B5b2c1 NAG10650}
\leaf{63}{1291}{1355}{mjp}{JP B5b2 HVUM0262}
\leaf{64}{1257.3}{1375}{mjp}{JP B5b3b AYUM5118}
\leaf{65}{1246.7}{1446.7}{mjp}{JP B5b HVUM0541}
\leaf{66}{1266.7}{1334.3}{mjp}{JP B5b C AC0180}
\leaf{67}{1266.7}{1351.7}{mjp}{JP B5b1a2 C AC0286}
\leaf{68}{1225.7}{1247.7}{mjp}{JP B5a2a1b C AC0043}
\leaf{69}{1225.7}{1333.3}{mjp}{JP B5a2a NAG16004}
\leaf{70}{1202.3}{1352.7}{mjp}{JP B5a2a2 NAG17816}
\leaf{71}{1138.3}{1265}{mchs}{B5aCHS}
\leaf{72}{1138.3}{1182.7}{mxsb}{B5aCDX}
\leaf{73}{1138.3}{1228.3}{mmnq}{MA101 MG672483.1 B4b}
\leaf{74}{1135}{1221}{mxsb}{R11CDX}
\leaf{75}{1135}{1243.3}{mkor}{KOR R11b SRR5282555.hg19}
\leaf{76}{1135}{1221}{mkor}{KOR R11b SRR5282567.hg19}
\leaf{77}{1011.7}{1035.7}{mjp}{JP B4m C AC0133}
\leaf{78}{1290.7}{1290.7}{mmnq}{MAN11 MG672502.1 M17}
\leaf{79}{1290.7}{1290.7}{mmnq}{MAN12 MG672503.1 R21}
\leaf{80}{1012.7}{1150}{mjp}{JP B AYUM0638}
\leaf{81}{1012.7}{1201.7}{mkor}{KOR J1c2 SRR6660808.hg19}
\leaf{82}{1035.7}{1099.3}{mjp}{JP B4h C AC0908}
\leaf{83}{1037.3}{1124.3}{mchb}{B4hCHB}
\leaf{84}{1037.3}{1102.7}{mchs}{B4hCHS}
\leaf{85}{1082.7}{1191.7}{mxsb}{B4cCDX}
\leaf{86}{1082.7}{1147.7}{mvn}{B4cKHV}
\leaf{87}{1052.3}{1138.3}{mjp}{JP B4c1c1 AYUM0643}
\leaf{88}{1052.3}{1140}{mjp}{JP B4c1a1a1 AYUM0624}
\leaf{89}{1075.7}{1206.7}{mjp}{JP B4c1b1 HVUM0295}
\leaf{90}{1075.7}{1206.7}{mjp}{JP B4c1b C AC0542}
\leaf{91}{1097.7}{1227.7}{mjp}{JP B4c1b2a1 LCAC0891}
\leaf{92}{1097.7}{1227.7}{mchb}{B4cCHB}
\leaf{93}{1097.7}{1142.7}{mchs}{B4cCHS}
\leaf{94}{1074.3}{1204}{mjp}{JP B4a1c3a AYUM0400}
\leaf{95}{1074.3}{1161.7}{mjp}{JP B4a1c1a AYUM0726}
\leaf{96}{1074.3}{1268.3}{mjp}{JP B4a1c3b LCAC0062}
\leaf{97}{1056}{1146.7}{mjp}{JP B4a1b1 AYUM5102}
\leaf{98}{1045}{1163.3}{mjp}{JP B4a4 AYUM0065}
\leaf{99}{1035.7}{1229.3}{mvn}{B4aKHV}
\leaf{100}{1037.3}{1146}{mjp}{JP B4a2b1a AYUM0744}
\leaf{101}{1037.3}{1190}{mjp}{JP B4a3 NAG15982}
\leaf{102}{1165}{1165}{mmam}{Mam38 GU733724.1 B4b}
\leaf{103}{1165}{1186.7}{mmam}{Mam64 GU733744.1 E2a}
\leaf{104}{1143.3}{1165.7}{maeta}{AeB4086 Aeta Bataan KC993946.1 B4b1a2}
\leaf{105}{1143.3}{1143.3}{maeta}{AeB4066 Aeta Bataan KC993933.1 B4b1a2}
\leaf{106}{1165}{1165}{maeta}{AeB4079 Aeta Bataan KC993941.1 B4b1a2}
\leaf{107}{1165}{1186.7}{maeta}{AeB4081 Aeta Bataan KC993943.1 B4b1a2}
\leaf{108}{1142.7}{1209}{maeta}{AeB4074 Aeta Bataan KC993939.1 B4b1a}
\leaf{109}{1142.7}{1165.7}{mmam}{Mam57 GU733738.1 R9b}
\leaf{110}{1142.7}{1206.7}{mjp}{JP B4b1a2a C AC0132}
\leaf{111}{1142.7}{1314.3}{mkor}{KOR B4b1a2 SRR5282272.hg19}
\leaf{112}{1120.7}{1229.3}{mvn}{B4bKHV}
\leaf{113}{1229}{1229}{myay}{Hanaura SJ001}
\leaf{114}{1229}{1271.7}{mjp}{JP B4b1a1a AYUM0057}
\leaf{115}{1077.7}{1250.7}{mjp}{JP B4b1c1 LCAC0372}
\leaf{116}{1077.7}{1122.7}{mchs}{B4bCHS}
\leaf{117}{1141.7}{1228.3}{mjp}{JP B4b1 C AC0118}
\leaf{118}{1141.7}{1206.7}{mjp}{JP B4b1b NAG10997}
\leaf{119}{1035}{1230}{mjp}{JP B4e NAG10889}
\leaf{120}{1076.7}{1163.3}{mjp}{JP B4d LCAC0536}
\leaf{121}{1099.3}{1186.7}{mjp}{JP B4d3a1 AYUM0159}
\leaf{122}{1099.3}{1186.7}{mchs}{B4dCHS}
\leaf{123}{1119.3}{1161}{mjp}{JP B4d1 C AC0452}
\leaf{124}{1119.3}{1229}{mchb}{B4dCHB}
\leaf{125}{1012.3}{1184}{mxsb}{B6aCDX}
\leaf{126}{1077.7}{1211}{mxsb}{R9bCDX}
\leaf{127}{1077.7}{1204}{mmam}{Mam56 GU733737.1 M7c}
\leaf{128}{1100}{1161}{mchs}{R9cCHS}
\leaf{129}{1100}{1170}{mvn}{R9cKHV}
\leaf{130}{1227.3}{1356}{mjp}{JP F3b C AC0468}
\leaf{131}{1227.3}{1358.3}{mxsb}{F3bCDX}
\leaf{132}{1201}{1348.3}{mxsb}{F3aCDX}
\leaf{133}{1145}{1340}{mchb}{F4bCHB}
\leaf{134}{1316.7}{1359}{mjp}{JP F4a1a NAG10137}
\leaf{135}{1316.7}{1404.3}{mjp}{JP F4a1a NAG13232}
\leaf{136}{1209}{1334.3}{mchb}{F2aCHB}
\leaf{137}{1213.3}{1257.7}{mjp}{JP F2f C AC0495}
\leaf{138}{1213.3}{1472.7}{mchb}{F2cCHB}
\leaf{139}{1320}{1385.7}{mjp}{JP F1a3a1 C AC0359}
\leaf{140}{1320}{1406}{maeta}{AeB4103 Aeta Bataan KC993954.1 F1a3a}
\leaf{141}{1233.3}{1277.3}{mjp}{JP F1a1b AYUM0226}
\leaf{142}{1212.3}{1299}{mjp}{JP F1c1a1 C AC0223}
\leaf{143}{1200}{1404.3}{mjp}{JP F1acf HVUM0049}
\leaf{144}{1184.3}{1299}{mjp}{JP F1d C AC0651}
\leaf{145}{1169}{1362.7}{mvn}{B KHV}
\leaf{146}{1276}{1320}{mjp}{JP F1b1a1a AYUM0054}
\leaf{147}{1276}{1294}{mcbm}{Cis-Baikal Mesolithic F1b1f}
\leaf{148}{1255.7}{1318.7}{mcbn}{Cis-Baikal Neolithic F1b1b}
\leaf{149}{1212}{1253.3}{mxsb}{F1eCDX}
\leaf{150}{1212}{1364.3}{mjp}{JP F1e1a AYUM0593}
\leaf{151}{1212}{1297.7}{mchb}{F1eCHB}
\boot{1117.3}{6.3}{64} \boot{1138.7}{7.8}{63} \boot{1117.3}{9.9}{63} \boot{1095.7}{8}{59}
\boot{1091}{10.1}{93} \boot{1079}{13.7}{73} \boot{1169}{17.2}{99} \boot{1059.3}{16.3}{84}
\boot{1046.7}{17.9}{57} \boot{1109}{22.3}{93} \boot{1035.7}{20.4}{83} \boot{1160}{23.1}{82}
\boot{1118.3}{23.5}{54} \boot{1097.7}{25.6}{81} \boot{1185}{29.2}{99} \boot{1102.3}{28.5}{65}
\boot{1097.7}{37.8}{82} \boot{1075.7}{40.3}{59} \boot{1119}{43.3}{85} \boot{1075}{42.5}{64}
\boot{1117.3}{45.2}{91} \boot{1042.3}{40.1}{77} \boot{1075.7}{45.7}{92} \boot{1149}{48.7}{93}
\boot{1106}{49.4}{99} \boot{1241}{51.7}{99} \boot{1026}{52.4}{58} \boot{1068.3}{56.3}{89}
\boot{1004}{60.3}{55} \boot{1285}{60.7}{65} \boot{1280.7}{61.4}{73} \boot{1247.3}{62.3}{53}
\boot{1240.7}{63.3}{53} \boot{1236.7}{64.5}{99} \boot{1215}{67.7}{92} \boot{1256.7}{67.2}{62}
\boot{1192.3}{68.4}{98} \boot{1127.3}{72.5}{72} \boot{1131}{73.2}{72} \boot{1106}{71.3}{84}
\boot{1065}{67}{87} \boot{1125}{75.8}{95} \boot{1280}{79.2}{99} \boot{1026}{83.5}{65}
\boot{1030}{84.2}{74} \boot{1072.3}{84.7}{91} \boot{1087.7}{92.7}{64} \boot{1065}{90}{73}
\boot{1025}{87.5}{62} \boot{1025}{98.6}{58} \boot{1155}{101.8}{68} \boot{1155}{107.2}{63}
\boot{1131.7}{108.2}{58} \boot{1218.3}{114.2}{99} \boot{1111}{110.6}{75} \boot{1131}{118.2}{94}
\boot{1067.7}{115.2}{72} \boot{1024.3}{118.5}{58} \boot{1109}{124.2}{61} \boot{1092.7}{120.7}{69}
\boot{1088.3}{123.2}{77} \boot{1066.7}{121.9}{91} \boot{1067.3}{125.7}{76} \boot{1089.3}{129.2}{89}
\boot{1216.7}{129.7}{94} \boot{1190.7}{130.4}{99} \boot{1306.7}{135.2}{99} \boot{1134.3}{134.5}{92}
\boot{1203.3}{138.2}{81} \boot{1199}{137.5}{98} \boot{1310}{138.7}{98} \boot{1223.3}{139.4}{63}
\boot{1202.3}{140.3}{53} \boot{1190}{141.2}{57} \boot{1174.3}{142.2}{63} \boot{1265.7}{145.6}{75}
\boot{1245.7}{146.3}{95} \boot{1201}{151}{81} \boot{1163.3}{149.8}{61} \boot{1155.7}{145.4}{96}
\boot{1069}{140.4}{73} \boot{1026.7}{134.3}{58}
\end{scope}
\draw[olive, line width=0.8pt] (1328,265) -- (1334,265);
\draw[line width=0.6pt] (943,1979) -- (943,1984) -- (1144,1984) -- (1144,1979);
\node[font=\fontsize{3.65}{4}\selectfont] (scale) at (1038,2010) {0.00050};
\foreach \st/\tx [count=\i from 0] in {mpal/Paleolithic JPN, mjoml/Jomon, myay/Yayoi, mjp/Japan, mkor/Korea, mtbn/Trans-Baikal Neolithic, mtbm/Trans-Baikal Mesolithic, mcbd/Cis-Baikal Medieval, mcbn/Cis-Baikal Neolithic, mcbm/Cis-Baikal Mesolithic, myia/Yakutia Iron Age, mymn/Yakutia Middle Neolithic, myln/Yakutia Late Neolithic, mypl/Yakutia Paleolithic, mcpl/China Paleolithic, mxsb/Xishuangbanna, mchb/Han Chinese Beijing, mchs/Han Chinese South, mvn/Vietnam, mbur/Buryats, mbel/Belgium Paleolithic, mlux/Luxembourg Paleolithic, maeta/Aeta, mmam/Mamanwa, mmnq/Maniq}
  {\node[\st, scale=1.65] (legm\i) at (1708,{402+33.6*\i}) {};
   \node[leg] (legt\i) at (1731,{402+33.6*\i}) {\tx};}
\end{tikzpicture}
\end{document}
